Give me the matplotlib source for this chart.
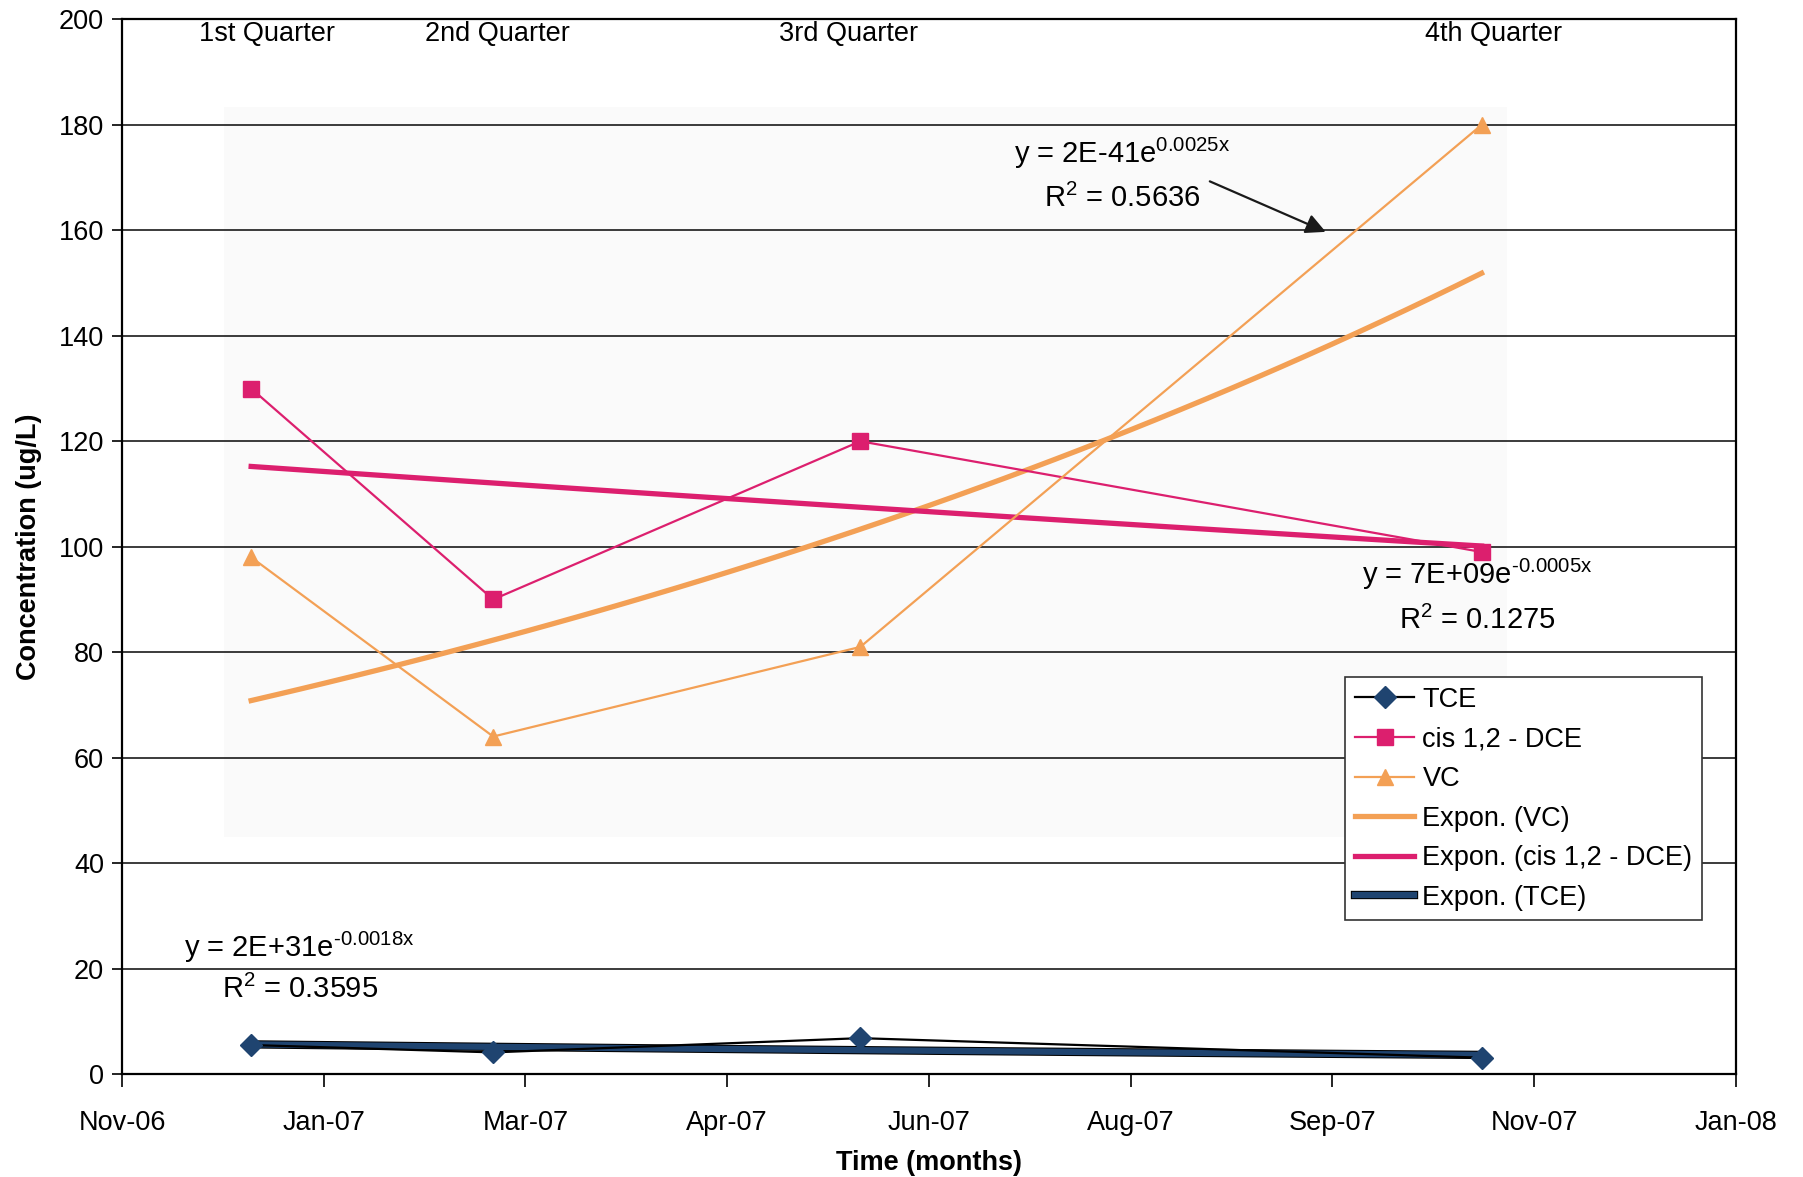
import numpy as np
import matplotlib
matplotlib.use("Agg")
import matplotlib.pyplot as plt
import matplotlib.dates as mdates
import matplotlib.patheffects as pe
from matplotlib.patches import Rectangle
from datetime import date, timedelta

plt.rcParams['font.family'] = ['Liberation Sans', 'DejaVu Sans']
plt.rcParams['mathtext.fontset'] = 'custom'
plt.rcParams['mathtext.rm'] = 'Liberation Sans'
plt.rcParams['mathtext.it'] = 'Liberation Sans'

# sampling dates (one per quarter)
sample_dates = [date(2006, 12, 30), date(2007, 2, 28), date(2007, 5, 30), date(2007, 10, 31)]
quarters = ['1st Quarter', '2nd Quarter', '3rd Quarter', '4th Quarter']
quarter_days = [36, 93, 180, 340]  # label positions, days from axis start

tce = [5.5, 4.1, 6.8, 3.1]
cis_dce = [130, 90, 120, 99]
vc = [98, 64, 81, 180]

# axis: Excel style date axis, major unit 50 days
axis_start = date(2006, 11, 28)
axis_step = 50
n_ticks = 9

eq_vc = [r'y = 2E-41e$^{\text{0.0025x}}$', r'R$^{\text{2}}$ = 0.5636']
eq_dce = [r'y = 7E+09e$^{\text{-0.0005x}}$', r'R$^{\text{2}}$ = 0.1275']
eq_tce = [r'y = 2E+31e$^{\text{-0.0018x}}$', r'R$^{\text{2}}$ = 0.3595']

C_TCE = '#1f4470'
C_DCE = '#dc1f6e'
C_VC = '#f3a055'


def dnum(d):
    return mdates.date2num(d)


def expon_fit(xs, ys):
    # exponential trendline y = a*exp(b*x), least squares on ln(y)
    b, lna = np.polyfit(xs, np.log(ys), 1)
    return lambda x: np.exp(lna + b * x)


x = np.array([dnum(d) for d in sample_dates])

fig = plt.figure(figsize=(18.03, 11.77), dpi=100)
ax = fig.add_axes([0.0677, 0.0875, 0.895, 0.896])

# faint grey patch behind the plotted region
ax.add_patch(Rectangle((0.063, 0.225), 0.795, 0.692, transform=ax.transAxes,
                       facecolor='#fafafa', edgecolor='none', zorder=0))

ax.set_ylim(0, 200)
ax.set_yticks(range(0, 201, 20))
ax.yaxis.grid(True, color='#1a1a1a', linewidth=1.2, zorder=1)
ax.set_axisbelow(True)

ticks = [dnum(axis_start + timedelta(days=axis_step * i)) for i in range(n_ticks)]
ax.set_xlim(ticks[0], ticks[-1])
ax.set_xticks(ticks)
ax.xaxis.set_major_formatter(mdates.DateFormatter('%b-%y'))

# trendlines
xt = np.linspace(x[0], x[-1], 50)
f_vc = expon_fit(x, vc)
f_dce = expon_fit(x, cis_dce)
f_tce = expon_fit(x, tce)

ax.plot(x, tce, color='black', lw=1.6, marker='D', ms=11, mfc=C_TCE, mec=C_TCE,
        label='TCE', zorder=5)
ax.plot(x, cis_dce, color=C_DCE, lw=1.6, marker='s', ms=11, mfc=C_DCE, mec=C_DCE,
        label='cis 1,2 - DCE', zorder=5)
ax.plot(x, vc, color=C_VC, lw=1.6, marker='^', ms=12, mfc=C_VC, mec=C_VC,
        label='VC', zorder=5)
ax.plot(xt, f_vc(xt), color=C_VC, lw=3.8, label='Expon. (VC)', zorder=4)
ax.plot(xt, f_dce(xt), color=C_DCE, lw=3.8, label='Expon. (cis 1,2 - DCE)', zorder=4)
ax.plot(xt, f_tce(xt), color=C_TCE, lw=4.5, label='Expon. (TCE)', zorder=4,
        path_effects=[pe.withStroke(linewidth=6, foreground='black')])

t0 = dnum(axis_start)

# quarter labels across the top
for dd, q in zip(quarter_days, quarters):
    ax.text(t0 + dd, 197.2, q, ha='center', va='center', fontsize=19.5)

fs_eq = 21
ax.text(t0 + 248, 174.5, eq_vc[0], ha='center', va='center', fontsize=fs_eq)
ax.text(t0 + 248, 166, eq_vc[1], ha='center', va='center', fontsize=fs_eq)
ax.annotate('', xy=(t0 + 299, 159.5), xytext=(t0 + 269, 169.5),
            arrowprops=dict(arrowstyle='-|>', color='#1a1a1a', lw=1.6,
                            mutation_scale=30))
ax.text(t0 + 336, 94.8, eq_dce[0], ha='center', va='center', fontsize=fs_eq)
ax.text(t0 + 336, 86, eq_dce[1], ha='center', va='center', fontsize=fs_eq)
ax.text(t0 + 44, 24, eq_tce[0], ha='center', va='center', fontsize=fs_eq)
ax.text(t0 + 44, 16, eq_tce[1], ha='center', va='center', fontsize=fs_eq)

for s in ax.spines.values():
    s.set_color('black')
    s.set_linewidth(1.6)

ax.tick_params(axis='y', direction='out', length=7, width=1.2, pad=6, labelsize=19.5)
ax.tick_params(axis='x', direction='out', length=9, width=1.2, pad=17, labelsize=19.5)

ax.set_xlabel('Time (months)', fontsize=19.5, fontweight='bold', labelpad=10)
ax.set_ylabel('Concentration (ug/L)', fontsize=19.5, fontweight='bold', labelpad=12)

leg = ax.legend(loc='upper left', bbox_to_anchor=(0.758, 0.376), fontsize=19.5,
                frameon=True, fancybox=False, framealpha=1, edgecolor='#333333',
                handlelength=2.2, handletextpad=0.3, labelspacing=0.5,
                borderpad=0.35, borderaxespad=0)
leg.get_frame().set_linewidth(1.2)

fig.savefig('out.png', dpi=100)
